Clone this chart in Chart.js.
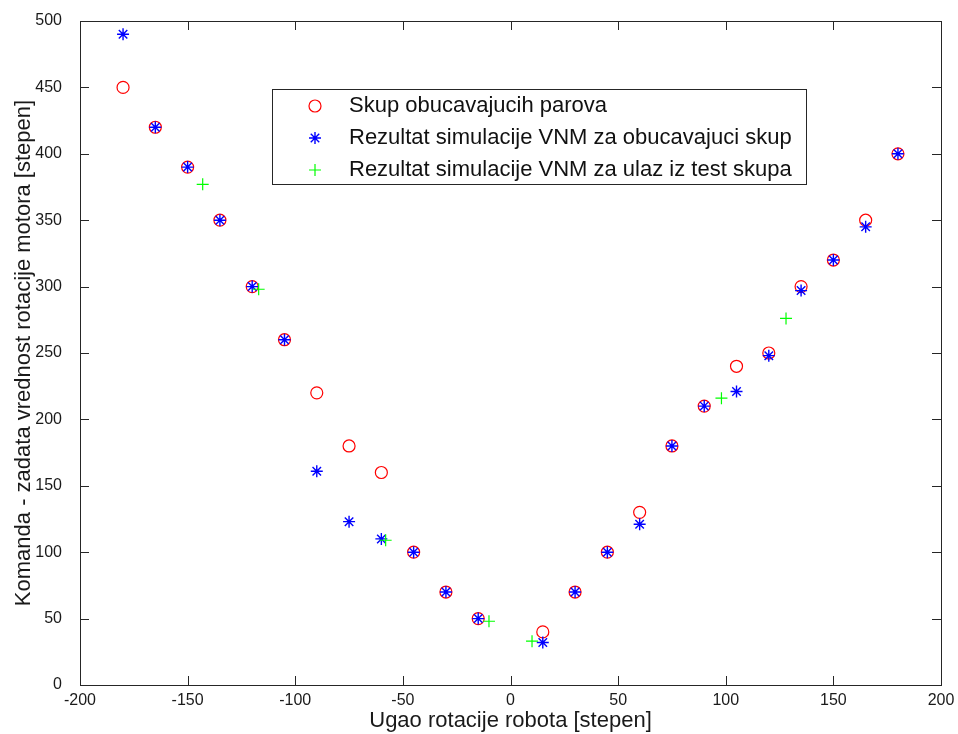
<!DOCTYPE html>
<html>
<head>
<meta charset="utf-8">
<title>Ugao rotacije robota</title>
<script src="https://cdn.jsdelivr.net/npm/chart.js@4.4.1/dist/chart.umd.min.js"></script>
<style>
  html, body { margin: 0; padding: 0; background: #fff; }
  canvas { display: block; }
</style>
</head>
<body>
<canvas id="plot" width="958" height="734"></canvas>
<script>
// training pairs (angle -> motor command) and network outputs
const trainAngles  = [-180, -165, -150, -135, -120, -105, -90, -75, -60, -45, -30, -15, 15, 30, 45, 60, 75, 90, 105, 120, 135, 150, 165, 180];
const trainTargets = [450, 420, 390, 350, 300, 260, 220, 180, 160, 100, 70, 50, 40, 70, 100, 130, 180, 210, 240, 250, 300, 320, 350, 400];
const trainOutputs = [490, 420, 390, 350, 300, 260, 161, 123, 110, 100, 70, 50, 32, 70, 100, 121, 180, 210, 221, 248, 297, 320, 345, 400];

// test inputs and network outputs
const testAngles  = [-143, -117, -58, -10, 10, 98, 128];
const testOutputs = [377, 298, 109, 48, 33, 216, 276];

const xTickValues = [-200, -150, -100, -50, 0, 50, 100, 150, 200];
const yTickValues = [0, 50, 100, 150, 200, 250, 300, 350, 400, 450, 500];

const seriesLabels = [
  'Skup obucavajucih parova',
  'Rezultat simulacije VNM za obucavajuci skup',
  'Rezultat simulacije VNM za ulaz iz test skupa'
];

const AXIS_COLOR = '#262626';
const FONT = "'Liberation Sans', Arial, sans-serif";

function toPoints(xs, ys) {
  return xs.map((x, i) => ({ x: x, y: ys[i] }));
}

// box around the plot area with inward ticks on all four sides
const frameBox = {
  id: 'frameBox',
  afterDraw(chart) {
    const { ctx, chartArea: a, scales } = chart;
    const len = 9;
    ctx.save();
    ctx.strokeStyle = AXIS_COLOR;
    ctx.lineWidth = 1;
    ctx.strokeRect(a.left + 0.5, a.top + 0.5, a.right - a.left, a.bottom - a.top);
    ctx.beginPath();
    xTickValues.forEach(v => {
      const px = Math.round(scales.x.getPixelForValue(v)) + 0.5;
      ctx.moveTo(px, a.bottom); ctx.lineTo(px, a.bottom - len);
      ctx.moveTo(px, a.top); ctx.lineTo(px, a.top + len);
    });
    yTickValues.forEach(v => {
      const py = Math.round(scales.y.getPixelForValue(v)) + 0.5;
      ctx.moveTo(a.left, py); ctx.lineTo(a.left + len, py);
      ctx.moveTo(a.right, py); ctx.lineTo(a.right - len, py);
    });
    ctx.stroke();
    ctx.restore();
  }
};

// legend box inside the plot
const boxLegend = {
  id: 'boxLegend',
  afterDraw(chart) {
    const ctx = chart.ctx;
    const left = 272, top = 89, width = 534, height = 95;
    ctx.save();
    ctx.fillStyle = '#fff';
    ctx.fillRect(left, top, width, height);
    ctx.strokeStyle = AXIS_COLOR;
    ctx.lineWidth = 1;
    ctx.strokeRect(left + 0.5, top + 0.5, width, height);
    chart.data.datasets.forEach((ds, i) => {
      const y = top + 17 + i * 32;
      ctx.strokeStyle = ds.borderColor;
      ctx.fillStyle = ds.backgroundColor;
      ctx.lineWidth = ds.borderWidth;
      Chart.helpers.drawPoint(ctx, { pointStyle: ds.pointStyle, radius: ds.pointRadius, rotation: 0, borderWidth: ds.borderWidth }, 315, y);
      ctx.fillStyle = '#111';
      ctx.font = '22px ' + FONT;
      ctx.textBaseline = 'middle';
      ctx.textAlign = 'left';
      ctx.fillText(ds.label, 349, y);
    });
    ctx.restore();
  }
};

new Chart(document.getElementById('plot'), {
  type: 'scatter',
  data: {
    datasets: [
      {
        label: seriesLabels[0],
        data: toPoints(trainAngles, trainTargets),
        pointStyle: 'circle',
        pointRadius: 6,
        pointHoverRadius: 6,
        borderColor: '#ff0000',
        backgroundColor: 'rgba(0,0,0,0)',
        borderWidth: 1.2,
        order: 3
      },
      {
        label: seriesLabels[1],
        data: toPoints(trainAngles, trainOutputs),
        pointStyle: 'star',
        pointRadius: 6,
        pointHoverRadius: 6,
        borderColor: '#0000ff',
        backgroundColor: '#0000ff',
        borderWidth: 1.4,
        order: 2
      },
      {
        label: seriesLabels[2],
        data: toPoints(testAngles, testOutputs),
        pointStyle: 'cross',
        pointRadius: 6,
        pointHoverRadius: 6,
        borderColor: '#00ff00',
        backgroundColor: '#00ff00',
        borderWidth: 1.2,
        order: 1
      }
    ]
  },
  options: {
    responsive: false,
    animation: false,
    events: [],
    layout: { padding: { top: 21, right: 17, left: 0, bottom: 0 } },
    plugins: {
      legend: { display: false },
      tooltip: { enabled: false }
    },
    scales: {
      x: {
        type: 'linear',
        min: -200,
        max: 200,
        afterBuildTicks: s => { s.ticks = xTickValues.map(v => ({ value: v })); },
        afterFit: s => { s.height = 49; s.paddingLeft = 0; s.paddingRight = 0; },
        grid: { display: false, drawTicks: false },
        border: { display: false },
        ticks: { padding: 6, color: '#1a1a1a', font: { family: FONT, size: 16 }, maxRotation: 0 },
        title: {
          display: true,
          text: 'Ugao rotacije robota [stepen]',
          color: '#1a1a1a',
          font: { family: FONT, size: 22 },
          padding: { top: 0, bottom: 0 }
        }
      },
      y: {
        type: 'linear',
        min: 0,
        max: 500,
        afterBuildTicks: s => { s.ticks = yTickValues.map(v => ({ value: v })); },
        afterFit: s => { s.width = 80; s.paddingTop = 0; s.paddingBottom = 0; },
        grid: { display: false, drawTicks: false },
        border: { display: false },
        ticks: { padding: 18, color: '#1a1a1a', font: { family: FONT, size: 16 } },
        title: {
          display: true,
          text: 'Komanda - zadata vrednost rotacije motora [stepen]',
          color: '#1a1a1a',
          font: { family: FONT, size: 22 },
          padding: { top: 11, bottom: 0 }
        }
      }
    }
  },
  plugins: [frameBox, boxLegend]
});
</script>
</body>
</html>
